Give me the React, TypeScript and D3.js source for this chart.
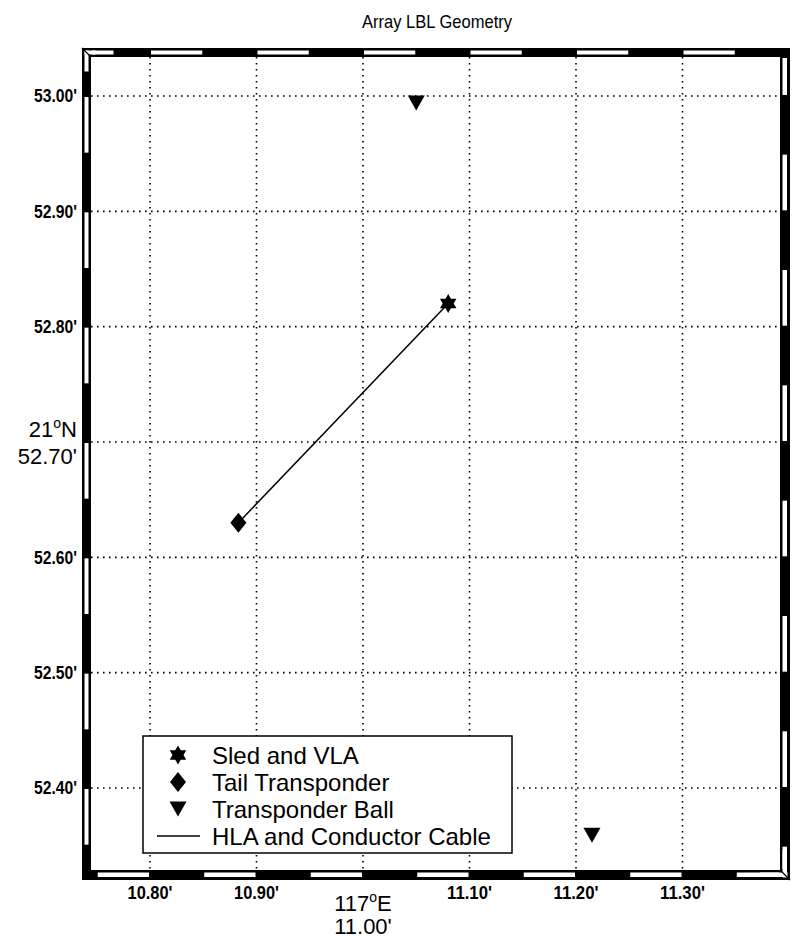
import React, { useEffect, useRef } from 'react';
import * as d3 from 'd3';

// tick values (minutes of arc)
const LON_TICKS = [10.8, 10.9, 11.0, 11.1, 11.2, 11.3];
const LAT_TICKS = [52.4, 52.5, 52.6, 52.7, 52.8, 52.9, 53.0];

// positions
const SLED_LON = [11.08];
const SLED_LAT = [52.82];
const TAIL_LON = [10.883];
const TAIL_LAT = [52.63];
const BALL_LON = [11.05, 11.215];
const BALL_LAT = [52.994, 52.359];

const LEGEND_LABELS = ['Sled and VLA', 'Tail Transponder', 'Transponder Ball', 'HLA and Conductor Cable'];

const W = 793;
const H = 940;
const FONT = '"Liberation Sans", Arial, sans-serif';

const App: React.FC = () => {
  const svgRef = useRef<SVGSVGElement | null>(null);

  useEffect(() => {
    if (!svgRef.current) return;
    const svg = d3.select(svgRef.current);
    svg.selectAll('*').remove();

    // inner plot box
    const left = 91, right = 780, top = 57, bottom = 870;

    const x = d3.scaleLinear().domain([10.8, 11.3]).range([150, 682.5]);
    const y = d3.scaleLinear().domain([52.4, 53.0]).range([788, 96]);
    const xd: [number, number] = [x.invert(left), x.invert(right)];
    const yd: [number, number] = [y.invert(bottom), y.invert(top)];

    svg.append('rect').attr('width', W).attr('height', H).attr('fill', '#fff');

    // title
    svg.append('text')
      .attr('x', 437).attr('y', 28)
      .attr('text-anchor', 'middle')
      .attr('textLength', 150).attr('lengthAdjust', 'spacingAndGlyphs')
      .style('font-family', FONT).style('font-size', '19px')
      .text('Array LBL Geometry');

    // grid
    const grid = svg.append('g')
      .attr('stroke', '#000').attr('stroke-width', 1.6)
      .attr('stroke-dasharray', '1.6 4.4');
    grid.selectAll('line.gx').data(LON_TICKS).enter().append('line')
      .attr('x1', d => x(d)).attr('x2', d => x(d))
      .attr('y1', top).attr('y2', bottom);
    grid.selectAll('line.gy').data(LAT_TICKS).enter().append('line')
      .attr('y1', d => y(d)).attr('y2', d => y(d))
      .attr('x1', left).attr('x2', right);

    // cable
    svg.append('line')
      .attr('x1', x(TAIL_LON[0])).attr('y1', y(TAIL_LAT[0]))
      .attr('x2', x(SLED_LON[0])).attr('y2', y(SLED_LAT[0]))
      .attr('stroke', '#000').attr('stroke-width', 1.5);

    // marker shapes
    const star = (R: number) => {
      const pts: [number, number][] = [];
      for (let i = 0; i < 12; i++) {
        const r = i % 2 === 0 ? R : R / Math.sqrt(3);
        const a = (-90 + i * 30) * Math.PI / 180;
        pts.push([r * Math.cos(a), r * Math.sin(a)]);
      }
      return 'M' + pts.map(p => p.join(',')).join('L') + 'Z';
    };
    const diamond = 'M0,-10L8,0L0,10L-8,0Z';
    const triDown = 'M-8.5,-7.5L8.5,-7.5L0,7.5Z';

    svg.selectAll('path.sled').data(SLED_LON).enter().append('path')
      .attr('d', star(9.5))
      .attr('transform', (d, i) => `translate(${x(d)},${y(SLED_LAT[i])})`)
      .attr('fill', '#000');
    svg.selectAll('path.tail').data(TAIL_LON).enter().append('path')
      .attr('d', diamond)
      .attr('transform', (d, i) => `translate(${x(d)},${y(TAIL_LAT[i])})`)
      .attr('fill', '#000');
    svg.selectAll('path.ball').data(BALL_LON).enter().append('path')
      .attr('d', triDown)
      .attr('transform', (d, i) => `translate(${x(d)},${y(BALL_LAT[i])})`)
      .attr('fill', '#000');

    // legend
    const lg = svg.append('g');
    lg.append('rect')
      .attr('x', 143).attr('y', 736).attr('width', 369).attr('height', 117)
      .attr('fill', '#fff').attr('stroke', '#000').attr('stroke-width', 1.5);
    const rowY = (i: number) => 755 + i * 27;
    const sx = 178;
    lg.append('path').attr('d', star(9.5)).attr('transform', `translate(${sx},${rowY(0)})`);
    lg.append('path').attr('d', diamond).attr('transform', `translate(${sx},${rowY(1)})`);
    lg.append('path').attr('d', triDown).attr('transform', `translate(${sx},${rowY(2)})`);
    lg.append('line')
      .attr('x1', 157).attr('x2', 200).attr('y1', rowY(3)).attr('y2', rowY(3))
      .attr('stroke', '#000').attr('stroke-width', 1.5);
    lg.selectAll('text').data(LEGEND_LABELS).enter().append('text')
      .attr('x', 212).attr('y', (d, i) => rowY(i))
      .attr('dy', '0.36em')
      .style('font-family', FONT).style('font-size', '24px')
      .text(d => d);

    // fancy frame: alternating black / white strips every 0.05'
    const step = 0.05;
    const segs = (d0: number, d1: number, parity: number) => {
      const out: { a: number; b: number; white: boolean }[] = [];
      const k0 = Math.floor(d0 / step + 1e-9);
      const k1 = Math.ceil(d1 / step - 1e-9);
      for (let k = k0; k < k1; k++) {
        out.push({ a: Math.max(k * step, d0), b: Math.min((k + 1) * step, d1), white: ((k % 2) + 2) % 2 === parity });
      }
      return out;
    };
    const fr = svg.append('g');
    const oL = left - 9, oT = top - 9, oR = right + 10, oB = bottom + 10;
    fr.append('path')
      .attr('fill-rule', 'evenodd')
      .attr('d', `M${oL},${oT}H${oR}V${oB}H${oL}Z M${left},${top}H${right}V${bottom}H${left}Z`)
      .attr('fill', '#000');
    const wr = (x0: number, y0: number, w: number, h: number) => {
      if (w <= 0 || h <= 0) return;
      fr.append('rect').attr('x', x0).attr('y', y0).attr('width', w).attr('height', h)
        .attr('fill', '#fff');
    };
    // bottom (odd white), top (even white)
    segs(xd[0], xd[1], 1).filter(s => s.white).forEach(s => {
      const a = x(s.a) + 1, b = x(s.b) - 1;
      wr(a, bottom + 2.5, b - a, 4.5);
    });
    segs(xd[0], xd[1], 0).filter(s => s.white).forEach(s => {
      const a = x(s.a) + 1, b = x(s.b) - 1;
      wr(a, oT + 2.5, b - a, 4);
    });
    // left (odd white), right (even white)
    segs(yd[0], yd[1], 1).filter(s => s.white).forEach(s => {
      const a = y(s.b) + 1, b = y(s.a) - 1;
      wr(oL + 2.5, a, 4, b - a);
    });
    segs(yd[0], yd[1], 0).filter(s => s.white).forEach(s => {
      const a = y(s.b) + 1, b = y(s.a) - 1;
      wr(right + 2.5, a, 4.5, b - a);
    });
    // mitred corners (top-left, bottom-right)
    wr(oL + 2.5, oT + 2.5, left - oL + 20, 4);
    wr(oL + 2.5, oT + 2.5, 4, top - oT + 12);
    fr.append('line')
      .attr('x1', oL).attr('y1', oT).attr('x2', left).attr('y2', top)
      .attr('stroke', '#000').attr('stroke-width', 1.2);
    wr(right - 20, bottom + 2.5, oR - right + 17.5, 4.5);
    wr(right + 2.5, bottom - 20, 4.5, oB - bottom + 17.5);
    fr.append('line')
      .attr('x1', right).attr('y1', bottom).attr('x2', oR).attr('y2', oB)
      .attr('stroke', '#000').attr('stroke-width', 1.2);

    // tick labels
    const fmt = (v: number) => v.toFixed(2) + "'";
    svg.selectAll('text.xl').data(LON_TICKS.filter(v => Math.abs(v - 11.0) > 1e-6)).enter().append('text')
      .attr('x', d => x(d)).attr('y', 899)
      .attr('text-anchor', 'middle')
      .attr('textLength', 45).attr('lengthAdjust', 'spacingAndGlyphs')
      .style('font-family', FONT).style('font-size', '18px').style('font-weight', 'bold')
      .text(d => fmt(d));
    svg.selectAll('text.yl').data(LAT_TICKS.filter(v => Math.abs(v - 52.7) > 1e-6)).enter().append('text')
      .attr('x', 77).attr('y', d => y(d))
      .attr('dy', '0.36em')
      .attr('text-anchor', 'end')
      .attr('textLength', 43).attr('lengthAdjust', 'spacingAndGlyphs')
      .style('font-family', FONT).style('font-size', '18px').style('font-weight', 'bold')
      .text(d => fmt(d));

    // big degree labels
    const deg = (g: any, a: string, b: string) => {
      g.append('tspan').text(a);
      g.append('tspan').attr('dy', -9).style('font-size', '14px').text('o');
      g.append('tspan').attr('dy', 9).text(b);
    };
    const latLab = svg.append('text')
      .attr('x', 77).attr('y', 437).attr('text-anchor', 'end')
      .style('font-family', FONT).style('font-size', '22px');
    deg(latLab, '21', 'N');
    svg.append('text')
      .attr('x', 77).attr('y', 464).attr('text-anchor', 'end')
      .style('font-family', FONT).style('font-size', '22px')
      .text(fmt(52.7));
    const lonLab = svg.append('text')
      .attr('x', x(11.0)).attr('y', 911).attr('text-anchor', 'middle')
      .style('font-family', FONT).style('font-size', '22px');
    deg(lonLab, '117', 'E');
    svg.append('text')
      .attr('x', x(11.0)).attr('y', 934).attr('text-anchor', 'middle')
      .style('font-family', FONT).style('font-size', '22px')
      .text(fmt(11.0));
  }, []);

  return (
    <svg
      ref={svgRef}
      width={W}
      height={H}
      style={{ position: 'absolute', left: 0, top: 0, display: 'block' }}
    />
  );
};

export default App;
